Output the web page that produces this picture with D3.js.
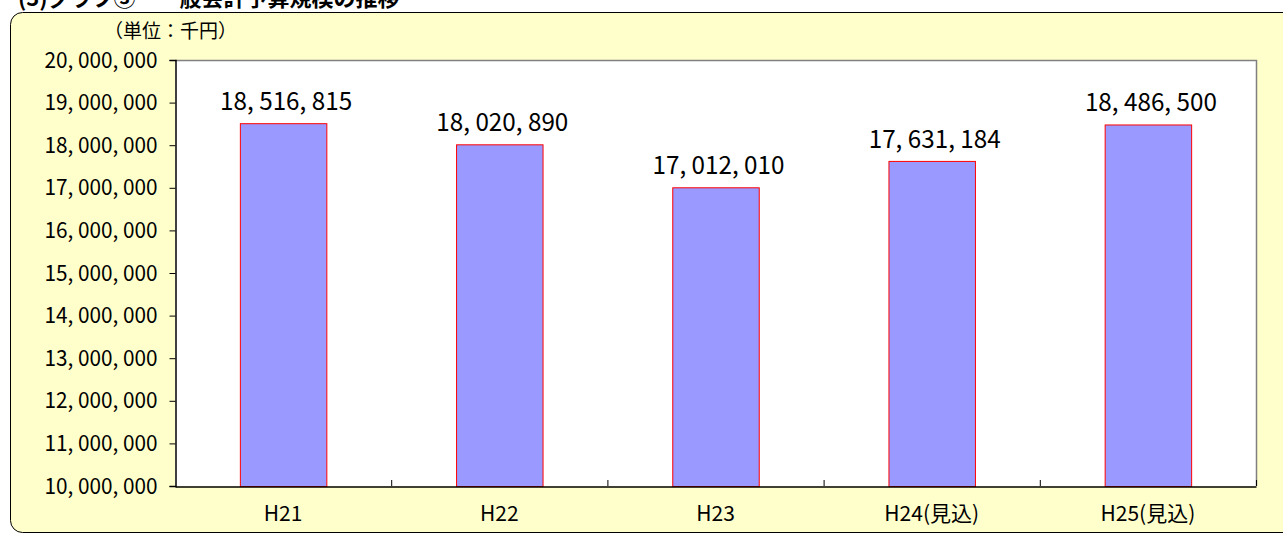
<!DOCTYPE html>
<html><head><meta charset="utf-8">
<script src="https://cdn.jsdelivr.net/npm/d3@7"></script>
<style>
html,body{margin:0;padding:0;background:#fff;}
svg{display:block;}
</style></head>
<body>
<svg id="c" width="1283" height="535"></svg>
<script>
const categories = ["H21", "H22", "H23", "H24(見込)", "H25(見込)"];
const values = [18516815, 18020890, 17012010, 17631184, 18486500];
const yTicks = [10000000, 11000000, 12000000, 13000000, 14000000, 15000000, 16000000, 17000000, 18000000, 19000000, 20000000];
const titleText = "(3)グラフ③　一般会計予算規模の推移";
const unitText = "（単位：千円）";

const W = 1283, H = 535;
const svg = d3.select("#c");
const numFont = "'Noto Sans CJK JP','DejaVu Sans Condensed',sans-serif";
const cjkFont = "'Noto Sans CJK JP','Noto Sans',sans-serif";
const fmt = v => d3.format(",")(v).replace(/,/g, ", ");

// title (cut off at top as in the reference)
svg.append("text").attr("x", 18).attr("y", 6)
  .attr("font-family", cjkFont).attr("font-size", 22).attr("font-weight", "bold")
  .attr("fill", "#000").text(titleText);

// outer frame
svg.append("rect").attr("x", 10.5).attr("y", 12.5).attr("width", 1290).attr("height", 520)
  .attr("rx", 12).attr("ry", 12)
  .attr("fill", "#FFFFCC").attr("stroke", "#000").attr("stroke-width", 1);

const m = {left: 175, top: 60, right: 1256, bottom: 486};
const x = d3.scaleBand().domain(categories).range([m.left, m.right]).paddingInner(0).paddingOuter(0);
const y = d3.scaleLinear().domain([10000000, 20000000]).range([m.bottom, m.top]);

// plot area
svg.append("rect").attr("x", m.left).attr("y", m.top).attr("width", m.right - m.left).attr("height", m.bottom - m.top)
  .attr("fill", "#fff");
svg.append("path").attr("d", `M${m.left},${m.top + 0.5}H${m.right + 0.5}V${m.bottom}`)
  .attr("fill", "none").attr("stroke", "#808080").attr("stroke-width", 1.5);

// unit label
svg.append("text").attr("x", 104).attr("y", 38)
  .attr("font-family", cjkFont).attr("font-size", 19).attr("fill", "#000").text(unitText);

// bars
const bw = x.bandwidth() * 0.4;
svg.selectAll("rect.bar").data(values).enter().append("rect").attr("class", "bar")
  .attr("x", (d, i) => x(categories[i]) + x.bandwidth() / 2 - bw / 2 + 0.5)
  .attr("y", d => y(d) + 0.5)
  .attr("width", bw)
  .attr("height", d => y(10000000) - y(d))
  .attr("fill", "#9999FF").attr("stroke", "#FF0000").attr("stroke-width", 1);

// value labels
svg.selectAll("text.val").data(values).enter().append("text").attr("class", "val")
  .attr("x", (d, i) => x(categories[i]) + x.bandwidth() / 2 + 3)
  .attr("y", d => y(d) - 13)
  .attr("text-anchor", "middle")
  .attr("font-family", numFont).attr("font-size", 25).attr("fill", "#000")
  .attr("textLength", 132).attr("lengthAdjust", "spacingAndGlyphs")
  .text(d => fmt(d));

// y axis
const yAxis = d3.axisLeft(y).tickValues(yTicks).tickSize(6).tickPadding(12).tickFormat(fmt);
const gy = svg.append("g").attr("transform", `translate(${m.left + 0.5},0)`).call(yAxis);
gy.select(".domain").attr("stroke", "#000").attr("stroke-width", 1.5);
gy.selectAll(".tick line").attr("stroke", "#000");
gy.selectAll(".tick text").attr("font-family", numFont).attr("font-size", 22).attr("fill", "#000")
  .attr("textLength", 113).attr("lengthAdjust", "spacingAndGlyphs");

// x axis
const xAxis = d3.axisBottom(x).tickSize(0).tickPadding(20);
const gx = svg.append("g").attr("transform", `translate(0,${m.bottom + 0.5})`).call(xAxis);
gx.select(".domain").attr("stroke", "#000").attr("stroke-width", 1.5);
gx.selectAll(".tick text").attr("font-family", numFont).attr("font-size", 21).attr("fill", "#000").attr("dy", "0.71em");
// boundary ticks
const bounds = categories.map(c => x(c)).concat([m.right]).slice(1);
svg.selectAll("line.bt").data(bounds).enter().append("line").attr("class", "bt")
  .attr("x1", d => d + 0.5).attr("x2", d => d + 0.5)
  .attr("y1", m.bottom).attr("y2", m.bottom - 6)
  .attr("stroke", "#000").attr("stroke-width", 1);
</script>
</body></html>
